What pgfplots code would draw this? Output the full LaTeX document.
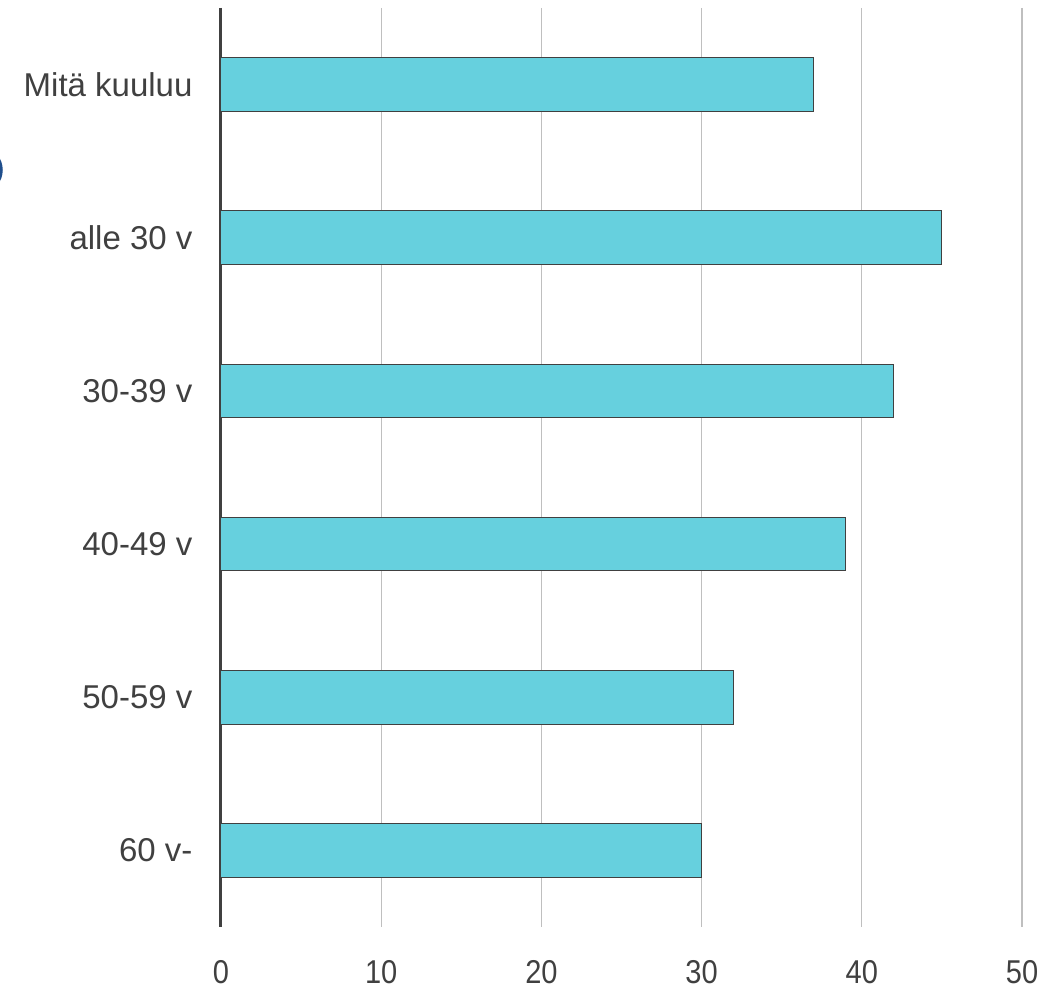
\documentclass[border=0pt]{standalone}
\usepackage{fontspec}
\setmainfont{Liberation Sans}
\newfontfamily\tickfont{Liberation Sans}[FakeStretch=0.88]
\usepackage{pgfplots}
\pgfplotsset{compat=1.18}
\definecolor{barfill}{HTML}{66D0DE}
\definecolor{txt}{HTML}{404040}
\definecolor{gridc}{HTML}{BFBFBF}
\definecolor{arcblue}{HTML}{1F4E8C}
\begin{document}
\begin{tikzpicture}
\begin{axis}[
  scale only axis, width=801pt, height=919pt,
  xmin=0, xmax=50, ymin=-0.5, ymax=5.5, y dir=reverse,
  axis x line*=bottom, axis y line*=left,
  x axis line style={draw=none},
  y axis line style={txt, line width=3pt},
  xtick={0,10,20,30,40,50}, ytick={0,1,2,3,4,5},
  yticklabels={Mitä kuuluu, alle 30 v, 30-39 v, 40-49 v, 50-59 v, 60 v-},
  major tick length=0pt,
  xmajorgrids, major grid style={gridc, line width=1.2pt},
  /pgf/number format/assume math mode=true,
  tick label style={text=txt},
  x tick label style={font=\tickfont\fontsize{33}{39}\selectfont, yshift=-30pt},
  y tick label style={font=\fontsize{33}{39}\selectfont, xshift=-25pt},
  clip=false,
]
\addplot[xbar, bar width=0.35, fill=barfill, draw=txt, line width=1pt]
  coordinates {(37,0) (45,1) (42,2) (39,3) (32,4) (30,5)};
\coordinate (bl) at (axis cs:0,5.5);
\coordinate (tr) at (axis cs:50,-0.5);
\end{axis}
\draw[arcblue, line width=3.5pt] ([shift={(-236pt,757pt)}]bl) ellipse [x radius=16pt, y radius=19pt];
\pgfresetboundingbox
\path[use as bounding box] ([shift={(-221pt,-62pt)}]bl) rectangle ([shift={(36pt,8pt)}]tr);
\end{tikzpicture}
\end{document}
